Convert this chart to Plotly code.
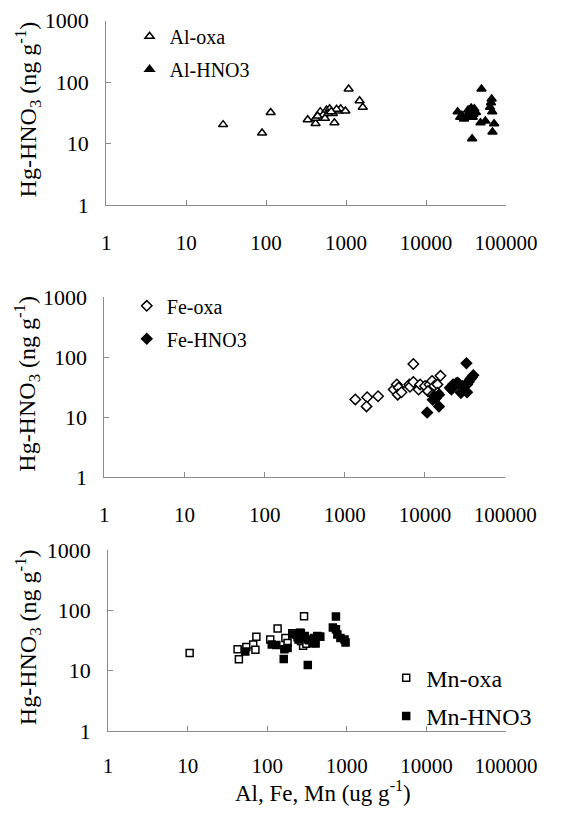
import plotly.graph_objects as go

# ---------------- data ----------------
al_oxa_x = [29, 89, 114, 331, 415, 415, 475, 520, 569, 623, 544, 682, 714, 818, 856, 980, 1075, 1475, 1615, 440, 600, 760, 650]
al_oxa_y = [20.3, 14.8, 32, 24.3, 21.2, 25.7, 33, 29.5, 35, 36.7, 25.7, 30.7, 21.8, 33.8, 36.7, 33.8, 77, 49.8, 39, 28, 31, 36, 33]
al_hno3_x = [49300, 66000, 64700, 63000, 67100, 24800, 26700, 29800, 33500, 36600, 40100, 42000, 35000, 32000, 38300, 47900, 55000, 70800, 67600, 37600, 28000, 34000, 39000]
al_hno3_y = [77, 53, 46, 39, 33, 33, 26.8, 25, 35, 37.8, 36.7, 32, 28.6, 26.8, 26.8, 21.8, 23.3, 21, 15.4, 12, 29, 31, 30]

fe_oxa_x = [1352, 1900, 1866, 2600, 4070, 4450, 4700, 4570, 5090, 6380, 6500, 7160, 7160, 8330, 8710, 10000, 11400, 12270, 13060, 14300, 15600, 10900, 12500, 14300]
fe_oxa_y = [19.7, 21.4, 15.1, 22.3, 28.8, 35, 31, 23.7, 26, 35, 32, 38.5, 76.7, 28.8, 35, 33, 35, 40, 33, 35, 48.7, 27.1, 23.7, 25.4]
fe_hno3_x = [32900, 40100, 36700, 33500, 25600, 22400, 20500, 28000, 33500, 14960, 13700, 12500, 14960, 10640, 24500, 26800, 29200, 32000, 35000, 38300, 21400, 28500, 13000]
fe_hno3_y = [78.8, 49.9, 42.6, 35, 37.5, 35, 30.8, 25.4, 26, 23.7, 20.9, 19.5, 15.1, 11.9, 36.5, 35, 33, 34.3, 38.5, 45.6, 28.8, 26, 22.5]

mn_oxa_x = [10.6, 42.4, 44, 54.6, 66.6, 71, 73, 109, 135, 169, 180, 206, 290, 282, 240, 265, 310]
mn_oxa_y = [19.7, 22.8, 15.5, 24.7, 27.1, 22.3, 36.5, 33, 49.9, 35, 28.8, 41.6, 79.6, 26, 36, 31, 28]
mn_hno3_x = [53, 114, 130, 164, 161, 323, 258, 247, 296, 337, 387, 405, 457, 729, 667, 729, 760, 830, 935, 963, 206, 370, 424, 464, 180, 264, 321]
mn_hno3_y = [20.9, 27.1, 26.7, 22.8, 15.7, 12.4, 42.7, 33, 37.5, 32, 35, 28.2, 36.5, 79, 51.8, 48.7, 40, 35, 33, 29.5, 40, 28.8, 37.5, 36.5, 23.7, 42, 33]

x_tickvals = [1, 10, 100, 1000, 10000, 100000]
x_ticktext = ["1", "10", "100", "1000", "10000", "100000"]
y_tickvals = [1, 10, 100, 1000]
y_ticktext = ["1", "10", "100", "1000"]

y_title = "Hg-HNO<sub>3</sub> (ng g<sup>-1</sup>)"
x_title = "Al, Fe, Mn (ug g<sup>-1</sup>)"

FONT = "Liberation Serif, Times New Roman, serif"
AXC = "#8c8c8c"

fig = go.Figure()

def add(x, y, name, symbol, fill, xa, ya, leg, size):
    fig.add_trace(go.Scatter(
        x=x, y=y, mode="markers", name=name, xaxis=xa, yaxis=ya, legend=leg,
        legendgroup=name,
        marker=dict(symbol=symbol, size=size, color=fill,
                    line=dict(color="black", width=1.5)),
    ))

add(al_oxa_x, al_oxa_y, "Al-oxa", "triangle-up", "white", "x", "y", "legend", 8)
add(al_hno3_x, al_hno3_y, "Al-HNO3", "triangle-up", "black", "x", "y", "legend", 8)
add(fe_oxa_x, fe_oxa_y, "Fe-oxa", "diamond", "white", "x2", "y2", "legend2", 8)
add(fe_hno3_x, fe_hno3_y, "Fe-HNO3", "diamond", "black", "x2", "y2", "legend2", 8)
add(mn_oxa_x, mn_oxa_y, "Mn-oxa", "square", "white", "x3", "y3", "legend3", 7)
add(mn_hno3_x, mn_hno3_y, "Mn-HNO3", "square", "black", "x3", "y3", "legend3", 7)

W, H = 568, 813
# pixel geometry of the three panels (left, right, top, bottom)
panels = [(108, 535, 9, 199), (106, 534, 294, 480), (110, 535, 555, 742)]
standoffs = [19, 19, 16]

def xaxis(i, anchor):
    l, r, t, b = panels[i]
    return dict(type="log", range=[0, 5.0001], domain=[l / W, r / W], anchor=anchor,
                showline=True, linecolor=AXC, linewidth=1, showgrid=False, zeroline=False,
                ticks="inside", ticklen=5, tickcolor=AXC, tickwidth=1,
                tickvals=x_tickvals, ticktext=x_ticktext, ticklabelstandoff=standoffs[i],
                tickfont=dict(family=FONT, size=21, color="black"))

def yaxis(i, anchor):
    l, r, t, b = panels[i]
    return dict(type="log", range=[0, 3], domain=[1 - b / H, 1 - t / H], anchor=anchor,
                showline=True, linecolor=AXC, linewidth=1, showgrid=False, zeroline=False,
                ticks="inside", ticklen=5, tickcolor=AXC, tickwidth=1,
                tickvals=y_tickvals, ticktext=y_ticktext, ticklabelstandoff=12,
                tickfont=dict(family=FONT, size=22, color="black"))

annotations = []
for i in range(3):
    l, r, t, b = panels[i]
    annotations.append(dict(text=y_title, xref="paper", yref="paper",
                            x=24 / W, y=1 - ((t + b) / 2 - 4) / H, showarrow=False,
                            textangle=-90, xanchor="center", yanchor="middle",
                            font=dict(family=FONT, size=24, color="black")))
annotations.append(dict(text=x_title, xref="paper", yref="paper", x=340 / W, y=1 - 804 / H,
                        showarrow=False, xanchor="center", yanchor="middle",
                        font=dict(family=FONT, size=23, color="black")))

def legend(x, y, size):
    return dict(x=x / W, y=1 - y / H, xanchor="left", yanchor="top", bgcolor="rgba(0,0,0,0)",
                borderwidth=0, tracegroupgap=4,
                font=dict(family=FONT, size=size, color="black"))

fig.update_layout(
    width=W, height=H, margin=dict(l=0, r=0, t=0, b=0),
    paper_bgcolor="white", plot_bgcolor="white",
    xaxis=xaxis(0, "y"), yaxis=yaxis(0, "x"),
    xaxis2=xaxis(1, "y2"), yaxis2=yaxis(1, "x2"),
    xaxis3=xaxis(2, "y3"), yaxis3=yaxis(2, "x3"),
    legend=legend(133, 5, 20),
    legend2=legend(130, 283, 20),
    legend3=legend(407, 664, 24),
    annotations=annotations,
    showlegend=True,
)

fig.write_html("out.html", config={"displayModeBar": False},
               post_script="document.body.style.margin='0';document.body.style.overflow='hidden';")
